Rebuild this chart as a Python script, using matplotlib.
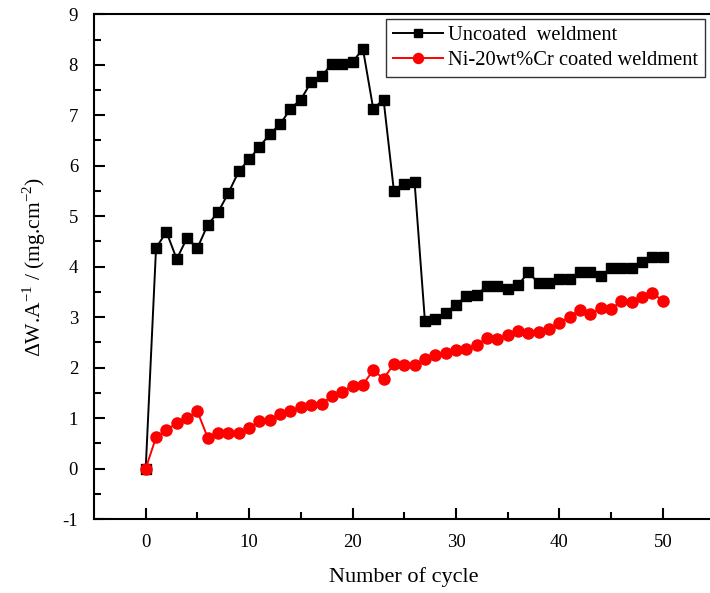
import numpy as np
import matplotlib.pyplot as plt

# cycle numbers and mass gain per unit area (mg/cm^2)
cycles = list(range(0, 51))
uncoated = [0.00, 4.37, 4.69, 4.15, 4.57, 4.37, 4.83, 5.08, 5.46, 5.89,
            6.13, 6.37, 6.63, 6.82, 7.13, 7.31, 7.66, 7.77, 8.02, 8.02,
            8.05, 8.32, 7.13, 7.31, 5.50, 5.64, 5.67, 2.92, 2.96, 3.09,
            3.24, 3.42, 3.44, 3.62, 3.62, 3.56, 3.63, 3.89, 3.67, 3.67,
            3.75, 3.75, 3.89, 3.89, 3.81, 3.97, 3.97, 3.97, 4.10, 4.19,
            4.19]
coated = [0.00, 0.62, 0.76, 0.90, 1.01, 1.13, 0.61, 0.70, 0.70, 0.71,
          0.80, 0.94, 0.96, 1.08, 1.13, 1.21, 1.26, 1.27, 1.44, 1.52,
          1.64, 1.66, 1.95, 1.78, 2.07, 2.05, 2.05, 2.17, 2.25, 2.29,
          2.34, 2.36, 2.45, 2.58, 2.56, 2.65, 2.73, 2.68, 2.71, 2.76,
          2.88, 3.01, 3.14, 3.06, 3.18, 3.16, 3.32, 3.29, 3.40, 3.48,
          3.32]
series_names = ["Uncoated  weldment", "Ni-20wt%Cr coated weldment"]

plt.rcParams['font.family'] = ['Liberation Serif', 'DejaVu Serif']
plt.rcParams['mathtext.fontset'] = 'custom'
plt.rcParams['mathtext.rm'] = 'Liberation Serif'
plt.rcParams['axes.unicode_minus'] = False

fig = plt.figure(figsize=(7.1, 5.93), dpi=100)
# axes run slightly past the right edge, like the cropped original
ax = fig.add_axes([94 / 710, 74 / 593, 620.5 / 710, 504.7 / 593])

ax.plot(cycles, uncoated, color='black', marker='s', markersize=7,
        linewidth=1.4, label=series_names[0])
ax.plot(cycles, coated, color='red', marker='o', markersize=8,
        linewidth=1.4, label=series_names[1])

ax.set_xlim(-5, 55)
ax.set_ylim(-1, 9)
ax.set_xticks([0, 10, 20, 30, 40, 50])
ax.set_xticks(np.arange(5, 50, 10), minor=True)
ax.set_yticks(np.arange(-1, 10, 1))
ax.set_yticks(np.arange(-0.5, 9, 1), minor=True)

for s in ax.spines.values():
    s.set_linewidth(1.5)
ax.tick_params(which='major', direction='in', length=8, width=1.5, labelsize=13.5)
ax.tick_params(which='minor', direction='in', length=5, width=1.5)
ax.tick_params(axis='x', which='major', pad=11)
ax.tick_params(axis='y', which='major', pad=11.5)
ax.tick_params(top=False, right=False, which='both')

ax.set_xlabel("Number of cycle", fontsize=16)
ax.xaxis.set_label_coords(0.5, -0.095)
ax.set_ylabel(r"$\Delta$W.A$^{-1}$ / (mg.cm$^{-2}$)", fontsize=15.5)
ax.yaxis.set_label_coords(-0.074, 0.5)

leg = ax.legend(loc='upper left', bbox_to_anchor=(292 / 620.5, 1 - 5 / 504.7),
                fontsize=14.8, frameon=True, fancybox=False, borderpad=0.32,
                handlelength=2.45, handletextpad=0.25, labelspacing=0.28,
                borderaxespad=0, markerscale=0.9)
leg.get_frame().set_edgecolor('black')
leg.get_frame().set_linewidth(1.0)

fig.savefig("out.png", dpi=100)
